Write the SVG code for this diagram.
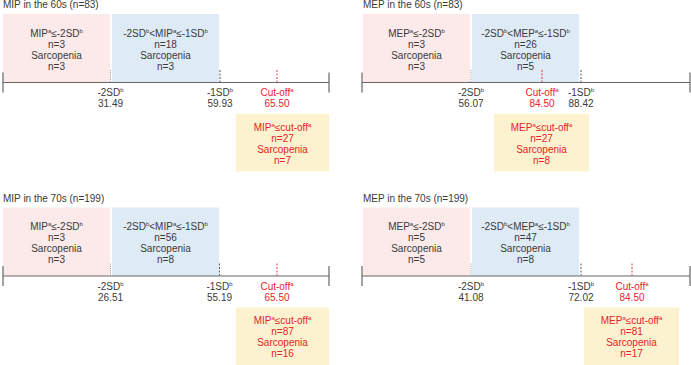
<svg xmlns="http://www.w3.org/2000/svg" width="691" height="365" viewBox="0 0 691 365">
<style>
text{font-family:"Liberation Sans",Arial,Helvetica,sans-serif;font-size:10px;fill:#3a3a3a}
.c{text-anchor:middle}
.r{fill:#e8212b}
.pink{fill:#fce9e9}
.blue{fill:#deebf5}
.yel{fill:#fdf2cf}
.axis{stroke:#666;stroke-width:1.2;fill:none}
.t2{stroke:#999;stroke-width:0.9;stroke-dasharray:1.2 1}
.t1{stroke:#444;stroke-width:0.9;stroke-dasharray:2 1.5}
.tr{stroke:#e8212b;stroke-width:0.9;stroke-dasharray:2 1.5}
.s{font-size:6px}
</style>
<rect width="691" height="365" fill="#fff"/>

<!-- Panel A: MIP 60s -->
<g id="panelA">
<text x="3" y="8">MIP in the 60s (n=83)</text>
<g id="A-pink"><rect class="pink" x="3" y="14" width="107" height="68.5"/>
<text class="c" x="56.5" y="36.5">MIP<tspan class="s" dy="-4">a</tspan><tspan dy="4">≤-2SD</tspan><tspan class="s" dy="-4">b</tspan></text>
<text class="c" x="56.5" y="47.5">n=3</text><text class="c" x="56.5" y="58.5">Sarcopenia</text><text class="c" x="56.5" y="69.5">n=3</text></g>
<g id="A-blue"><rect class="blue" x="112" y="14" width="107" height="68.5"/>
<text class="c" x="165.5" y="36.5">-2SD<tspan class="s" dy="-4">b</tspan><tspan dy="4">&lt;MIP</tspan><tspan class="s" dy="-4">a</tspan><tspan dy="4">≤-1SD</tspan><tspan class="s" dy="-4">b</tspan></text>
<text class="c" x="165.5" y="47.5">n=18</text><text class="c" x="165.5" y="58.5">Sarcopenia</text><text class="c" x="165.5" y="69.5">n=3</text></g>
<g id="A-yellow"><rect class="yel" x="236" y="114" width="93" height="57.5"/>
<text class="c r" x="282.5" y="130.5">MIP<tspan class="s r" dy="-4">a</tspan><tspan class="r" dy="4">≤cut-off</tspan><tspan class="s r" dy="-4">a</tspan></text>
<text class="c r" x="282.5" y="141.5">n=27</text><text class="c r" x="282.5" y="152.5">Sarcopenia</text><text class="c r" x="282.5" y="163.5">n=7</text></g>
<g id="A-axis">
<path class="axis" d="M3,82.5H329M3,72.5V92.5M329,72.5V92.5"/>
<path class="t2" d="M110.5,70V82"/><path class="t1" d="M220,70V82"/><path class="tr" d="M277,70V82"/>
</g>
<g id="A-labels">
<text class="c" x="110.5" y="96">-2SD<tspan class="s" dy="-4">b</tspan></text><text class="c" x="110.5" y="107">31.49</text>
<text class="c" x="220" y="96">-1SD<tspan class="s" dy="-4">b</tspan></text><text class="c" x="220" y="107">59.93</text>
<text class="c r" x="277" y="96">Cut-off<tspan class="s r" dy="-4">a</tspan></text><text class="c r" x="277" y="107">65.50</text>
</g>
</g>

<!-- Panel B: MEP 60s -->
<g id="panelB">
<text x="363" y="8">MEP in the 60s (n=83)</text>
<g id="B-pink"><rect class="pink" x="363" y="14" width="107" height="68.5"/>
<text class="c" x="416.5" y="36.5">MEP<tspan class="s" dy="-4">a</tspan><tspan dy="4">≤-2SD</tspan><tspan class="s" dy="-4">b</tspan></text>
<text class="c" x="416.5" y="47.5">n=3</text><text class="c" x="416.5" y="58.5">Sarcopenia</text><text class="c" x="416.5" y="69.5">n=3</text></g>
<g id="B-blue"><rect class="blue" x="472" y="14" width="107" height="68.5"/>
<text class="c" x="525.5" y="36.5">-2SD<tspan class="s" dy="-4">b</tspan><tspan dy="4">&lt;MEP</tspan><tspan class="s" dy="-4">a</tspan><tspan dy="4">≤-1SD</tspan><tspan class="s" dy="-4">b</tspan></text>
<text class="c" x="525.5" y="47.5">n=26</text><text class="c" x="525.5" y="58.5">Sarcopenia</text><text class="c" x="525.5" y="69.5">n=5</text></g>
<g id="B-yellow"><rect class="yel" x="494" y="114" width="95" height="57.5"/>
<text class="c r" x="541.5" y="130.5">MEP<tspan class="s r" dy="-4">a</tspan><tspan class="r" dy="4">≤cut-off</tspan><tspan class="s r" dy="-4">a</tspan></text>
<text class="c r" x="541.5" y="141.5">n=27</text><text class="c r" x="541.5" y="152.5">Sarcopenia</text><text class="c r" x="541.5" y="163.5">n=8</text></g>
<g id="B-axis">
<path class="axis" d="M362,82.5H690M362,72.5V92.5M690,72.5V92.5"/>
<path class="t2" d="M471,70V82"/><path class="tr" d="M542,70V82"/><path class="t1" d="M581,70V82"/>
</g>
<g id="B-labels">
<text class="c" x="471" y="96">-2SD<tspan class="s" dy="-4">b</tspan></text><text class="c" x="471" y="107">56.07</text>
<text class="c r" x="542" y="96">Cut-off<tspan class="s r" dy="-4">a</tspan></text><text class="c r" x="542" y="107">84.50</text>
<text class="c" x="581" y="96">-1SD<tspan class="s" dy="-4">b</tspan></text><text class="c" x="581" y="107">88.42</text>
</g>
</g>

<!-- Panel C: MIP 70s -->
<g id="panelC" transform="translate(0,193.5)">
<text x="3" y="8">MIP in the 70s (n=199)</text>
<g id="C-pink"><rect class="pink" x="3" y="14" width="107" height="68.5"/>
<text class="c" x="56.5" y="36.5">MIP<tspan class="s" dy="-4">a</tspan><tspan dy="4">≤-2SD</tspan><tspan class="s" dy="-4">b</tspan></text>
<text class="c" x="56.5" y="47.5">n=3</text><text class="c" x="56.5" y="58.5">Sarcopenia</text><text class="c" x="56.5" y="69.5">n=3</text></g>
<g id="C-blue"><rect class="blue" x="112" y="14" width="107" height="68.5"/>
<text class="c" x="165.5" y="36.5">-2SD<tspan class="s" dy="-4">b</tspan><tspan dy="4">&lt;MIP</tspan><tspan class="s" dy="-4">a</tspan><tspan dy="4">≤-1SD</tspan><tspan class="s" dy="-4">b</tspan></text>
<text class="c" x="165.5" y="47.5">n=56</text><text class="c" x="165.5" y="58.5">Sarcopenia</text><text class="c" x="165.5" y="69.5">n=8</text></g>
<g id="C-yellow"><rect class="yel" x="236" y="114" width="93" height="58"/>
<text class="c r" x="282.5" y="130.5">MIP<tspan class="s r" dy="-4">a</tspan><tspan class="r" dy="4">≤cut-off</tspan><tspan class="s r" dy="-4">a</tspan></text>
<text class="c r" x="282.5" y="141.5">n=87</text><text class="c r" x="282.5" y="152.5">Sarcopenia</text><text class="c r" x="282.5" y="163.5">n=16</text></g>
<g id="C-axis">
<path class="axis" d="M3,82.5H329M3,72.5V92.5M329,72.5V92.5"/>
<path class="t2" d="M110.5,70V82"/><path class="t1" d="M219.5,70V82"/><path class="tr" d="M277,70V82"/>
</g>
<g id="C-labels">
<text class="c" x="110.5" y="96">-2SD<tspan class="s" dy="-4">b</tspan></text><text class="c" x="110.5" y="107">26.51</text>
<text class="c" x="219.5" y="96">-1SD<tspan class="s" dy="-4">b</tspan></text><text class="c" x="219.5" y="107">55.19</text>
<text class="c r" x="277" y="96">Cut-off<tspan class="s r" dy="-4">a</tspan></text><text class="c r" x="277" y="107">65.50</text>
</g>
</g>

<!-- Panel D: MEP 70s -->
<g id="panelD" transform="translate(0,193.5)">
<text x="363" y="8">MEP in the 70s (n=199)</text>
<g id="D-pink"><rect class="pink" x="363" y="14" width="107" height="68.5"/>
<text class="c" x="416.5" y="36.5">MEP<tspan class="s" dy="-4">a</tspan><tspan dy="4">≤-2SD</tspan><tspan class="s" dy="-4">b</tspan></text>
<text class="c" x="416.5" y="47.5">n=5</text><text class="c" x="416.5" y="58.5">Sarcopenia</text><text class="c" x="416.5" y="69.5">n=5</text></g>
<g id="D-blue"><rect class="blue" x="472" y="14" width="107" height="68.5"/>
<text class="c" x="525.5" y="36.5">-2SD<tspan class="s" dy="-4">b</tspan><tspan dy="4">&lt;MEP</tspan><tspan class="s" dy="-4">a</tspan><tspan dy="4">≤-1SD</tspan><tspan class="s" dy="-4">b</tspan></text>
<text class="c" x="525.5" y="47.5">n=47</text><text class="c" x="525.5" y="58.5">Sarcopenia</text><text class="c" x="525.5" y="69.5">n=8</text></g>
<g id="D-yellow"><rect class="yel" x="584" y="114" width="95" height="58"/>
<text class="c r" x="631.5" y="130.5">MEP<tspan class="s r" dy="-4">a</tspan><tspan class="r" dy="4">≤cut-off</tspan><tspan class="s r" dy="-4">a</tspan></text>
<text class="c r" x="631.5" y="141.5">n=81</text><text class="c r" x="631.5" y="152.5">Sarcopenia</text><text class="c r" x="631.5" y="163.5">n=17</text></g>
<g id="D-axis">
<path class="axis" d="M362,82.5H690M362,72.5V92.5M690,72.5V92.5"/>
<path class="t2" d="M471,70V82"/><path class="t1" d="M581,70V82"/><path class="tr" d="M632,70V82"/>
</g>
<g id="D-labels">
<text class="c" x="471" y="96">-2SD<tspan class="s" dy="-4">b</tspan></text><text class="c" x="471" y="107">41.08</text>
<text class="c" x="581" y="96">-1SD<tspan class="s" dy="-4">b</tspan></text><text class="c" x="581" y="107">72.02</text>
<text class="c r" x="632" y="96">Cut-off<tspan class="s r" dy="-4">a</tspan></text><text class="c r" x="632" y="107">84.50</text>
</g>
</g>
</svg>
